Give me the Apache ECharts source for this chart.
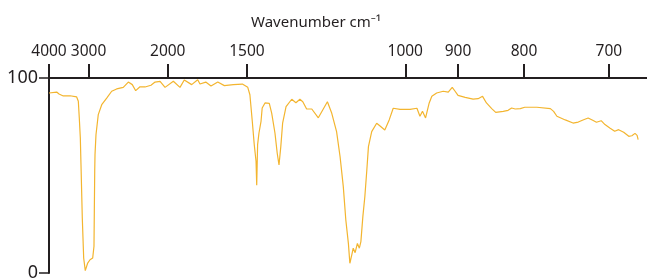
<!DOCTYPE html>
<html>
<head>
<meta charset="utf-8">
<script src="https://cdn.jsdelivr.net/npm/echarts@6/dist/echarts.min.js"></script>
<style>
html,body{margin:0;padding:0;background:#fff;}
#chart{width:647px;height:278px;}
</style>
</head>
<body>
<div id="chart"></div>
<script>
// Wavenumber (cm^-1) of each traced point
const wavenumbers = [4000,3757,3689,3570,3399,3244,3208,3187,3165,3151,
3124,3096,3064,3017,2973,2924,2901,2895,2888,2883,
2866,2827,2770,2692,2618,2548,2461,2398,2351,2312,
2265,2212,2152,2113,2067,2023,1954,1902,1870,1817,
1776,1761,1724,1692,1652,1615,1567,1522,1496,1486,
1475,1466,1458,1455,1451,1445,1436,1431,1419,1412,
1401,1391,1378,1369,1362,1355,1348,1335,1314,1299,
1285,1275,1262,1245,1224,1196,1183,1169,1159,1150,
1143,1136,1132,1127,1123,1118,1112,1107,1103,1098,
1093,1088,1084,1076,1064,1056,1045,1035,1026,1011,
990,976,970,965,959,952,947,938,926,917,
910,905,900,888,875,867,860,854,846,840,
829,822,817,812,805,799,783,766,762,758,
748,739,733,727,722,717,713,708,704,699,
694,690,685,680,677,674,672,671];
// Transmittance (%)
const transmittance = [92.3,92.8,91.8,90.8,90.9,90.3,88.1,79.5,69.2,55.5,
28.2,7.7,1.2,5.1,6.8,7.7,13.7,31.8,52.2,60.7,
70.9,81.2,86.3,89.7,93.2,94.4,95.2,97.9,96.6,93.5,
95.5,95.4,96.3,97.9,98.3,95.2,98.3,95.2,99.0,96.6,
99.1,96.9,97.9,95.9,97.9,96.1,96.6,96.9,95.2,91.4,
77.8,65.8,57.3,45.0,65.8,71.8,77.8,84.6,87.2,87.8,
87.0,81.9,71.8,61.4,55.4,64.8,76.8,85.3,89.1,87.3,
89.1,87.8,84.1,84.1,79.6,87.8,81.9,72.5,59.6,44.3,
27.2,15.2,5.0,9.2,12.7,10.4,15.2,12.7,16.1,28.9,
39.1,52.8,64.8,72.5,76.8,75.4,73.3,78.5,84.5,83.9,
83.9,84.5,80.4,82.9,79.5,87.2,90.6,92.3,93.2,92.8,
95.2,93.2,91.1,90.1,89.2,89.4,90.6,87.2,84.3,82.4,
82.9,83.4,84.6,84.1,84.3,85.0,85.0,84.3,82.9,80.4,
78.5,76.9,77.4,78.6,79.5,78.3,77.3,78.1,76.1,74.4,
72.7,73.5,72.2,70.1,70.4,71.6,70.6,68.4];
// Tick labels on the wavenumber axis
const xTickLabels = [4000,3000,2000,1500,1000,900,800,700];
const yTickLabels = [0,100];
const xAxisTitle = 'Wavenumber cm\u207B\u00B9';
const yAxisTitle = 'Transmittance (%)';

// axis runs linearly in wavelength (µm) = 10000 / wavenumber
const toWl = w => 10000 / w;
const seriesData = wavenumbers.map((w, i) => [toWl(w), transmittance[i]]);
const tickPos = xTickLabels.map(toWl);

const dark = '#231f20';
const font = '"Noto Sans", sans-serif';
const chart = echarts.init(document.getElementById('chart'), null, {renderer: 'canvas'});
chart.setOption({
  animation: false,
  backgroundColor: '#fff',
  grid: {left: 49, right: 0, top: 78, bottom: 5, containLabel: false, outerBoundsMode: 'none'},
  graphic: [{
    type: 'text', left: 251, top: 15,
    style: {text: xAxisTitle, fill: dark, font: '15px ' + font}
  }],
  xAxis: {
    type: 'value', position: 'top',
    min: 2.5, max: 2.5 + 598 / 47.5,
    axisLine: {show: true, onZero: false, lineStyle: {color: dark, width: 2}},
    axisTick: {show: true, inside: false, length: 14, customValues: tickPos, lineStyle: {color: dark, width: 2}},
    axisLabel: {show: true, customValues: tickPos, margin: 18, color: dark, fontSize: 15.5, fontFamily: font,
      formatter: v => String(Math.round(10000 / v))},
    splitLine: {show: false}
  },
  yAxis: {
    type: 'value', min: 0, max: 100, interval: 100,
    name: yAxisTitle, nameLocation: 'middle', nameGap: 19,
    nameTextStyle: {color: dark, fontSize: 18.5, fontFamily: font},
    axisLine: {show: true, onZero: false, lineStyle: {color: dark, width: 2}},
    axisTick: {show: true, length: 10, lineStyle: {color: dark, width: 1.5}},
    axisLabel: {margin: 11, color: dark, fontSize: 18, fontFamily: font,
      formatter: v => yTickLabels.includes(v) ? String(v) : ''},
    splitLine: {show: false}
  },
  series: [{
    type: 'line', data: seriesData, showSymbol: false, smooth: false,
    lineStyle: {color: '#f3b52f', width: 1.2}, clip: false
  }]
});
</script>
</body>
</html>
